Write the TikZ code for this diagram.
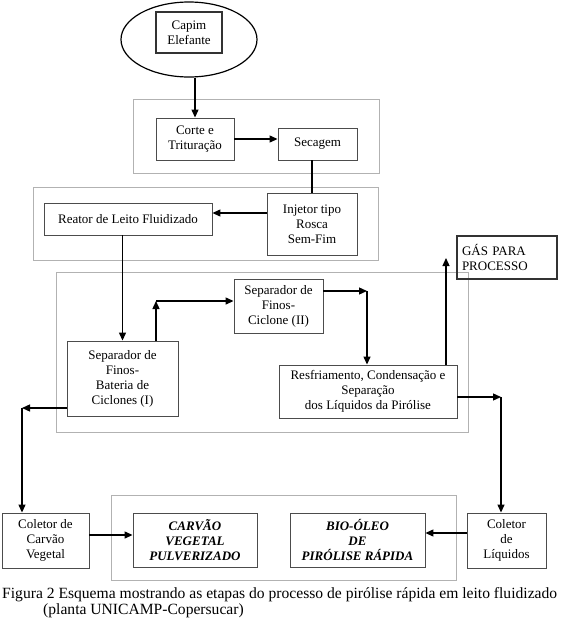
\documentclass[tikz,border=0pt]{standalone}
\usepackage{fontspec}
\setmainfont{Liberation Serif}
\usetikzlibrary{arrows.meta,shapes.geometric}
\begin{document}
\begin{tikzpicture}[x=1pt,y=-1pt,
  every node/.style={font=\fontsize{13}{15}\selectfont},
  box/.style={draw=black!70,line width=0.9pt,rectangle,inner sep=0pt,align=center},
  grp/.style={draw=black!30,line width=1pt},
  arr/.style={draw=black,line width=1.3pt,-{Triangle[length=8pt,width=7pt]}},
  ln/.style={draw=black,line width=1.3pt}]
\useasboundingbox (0,0) rectangle (561,621);
% group frames
\draw[grp] (133,99) rectangle (379,173);
\draw[grp] (33,187) rectangle (378,260);
\draw[grp] (56,272) rectangle (468,432);
\draw[grp] (111,495) rectangle (456,580);
% nodes
\node[draw=black,line width=1.2pt,ellipse,minimum width=136pt,minimum height=75pt,inner sep=0pt] (ell) at (189,39.5) {};
\node[box,draw=black!80,line width=1.4pt,minimum width=66pt,minimum height=41pt] (capim) at (189,32.5) {Capim\\Elefante};
\node[box,minimum width=78pt,minimum height=42pt] (corte) at (195,139) {Corte e\\Trituração};
\node[box,minimum width=79pt,minimum height=32pt] (secagem) at (317.5,144) {Secagem};
\node[box,minimum width=90pt,minimum height=62pt] (injetor) at (312,224) {Injetor tipo\\Rosca\\Sem-Fim};
\node[box,minimum width=168pt,minimum height=32pt] (reator) at (128,219) {Reator de Leito Fluidizado};
\node[box,minimum width=111pt,minimum height=75pt] (sepI) at (122.5,378.5) {Separador de\\Finos-\\Bateria de\\Ciclones (I)};
\node[box,minimum width=89pt,minimum height=54pt] (sepII) at (278.5,306) {Separador de\\Finos-\\Ciclone (II)};
\node[box,minimum width=178pt,minimum height=53pt] (resf) at (368,391.5) {Resfriamento, Condensação e\\Separação\\dos Líquidos da Pirólise};
\node[box,draw=black!80,line width=1.4pt,minimum width=100pt,minimum height=43pt,align=left,text width=90pt] (gas) at (507,257.5) {GÁS PARA\\PROCESSO};
\node[box,minimum width=87pt,minimum height=55pt] (colcarv) at (45.5,540.5) {Coletor de\\Carvão\\Vegetal};
\node[box,minimum width=124pt,minimum height=54pt,font=\fontsize{13}{15}\selectfont\bfseries\itshape] (carvao) at (195,540) {CARVÃO\\VEGETAL\\PULVERIZADO};
\node[box,minimum width=135pt,minimum height=54pt,font=\fontsize{13}{15}\selectfont\bfseries\itshape] (bio) at (357.5,540) {BIO-ÓLEO\\DE\\PIRÓLISE RÁPIDA};
\node[box,minimum width=79pt,minimum height=55pt] (colliq) at (506.5,540.5) {Coletor\\de\\Líquidos};
% helper coordinates
\coordinate (c1) at (156,301);
\coordinate (c2) at (367,291);
\coordinate (c3) at (446,258);
\coordinate (c4) at (501,397);
\coordinate (c5) at (22,408);
% connectors
\draw[arr] (ell.south -| corte.north) -- (corte.north);
\draw[arr] (corte.east) -- (corte.east -| secagem.west);
\draw[ln] (injetor.north |- secagem.south) -- (injetor.north);
\draw[arr] ([yshift=11pt]injetor.west) -- ([yshift=6pt]reator.east);
\draw[arr] (sepI.north |- reator.south) -- (sepI.north);
\draw[arr] (c1 |- sepI.north) -- (c1);
\draw[arr] (c1) -- (c1 -| sepII.west);
\draw[arr] (c2 -| sepII.east) -- (c2);
\draw[arr] (c2) -- (c2 |- resf.north);
\draw[arr] (c3 |- resf.north) -- (c3);
\draw[arr] (c4 -| resf.east) -- (c4);
\draw[arr] (c4) -- (c4 |- colliq.north);
\draw[arr] (c5 -| sepI.west) -- (c5);
\draw[arr] (c5) -- (c5 |- colcarv.north);
\draw[arr] ([yshift=5.5pt]colcarv.east) -- ([yshift=5pt]carvao.west);
\draw[arr] ([yshift=7.5pt]colliq.west) -- ([yshift=7pt]bio.east);
% caption
\node[anchor=west,inner sep=0pt,font=\fontsize{15.6}{16}\selectfont] (cap1) at (2,595) {Figura 2 Esquema mostrando as etapas do processo de pirólise rápida em leito fluidizado};
\node[anchor=west,inner sep=0pt,font=\fontsize{15.6}{16}\selectfont] (cap2) at (43,611) {(planta UNICAMP-Copersucar)};
\end{tikzpicture}
\end{document}
